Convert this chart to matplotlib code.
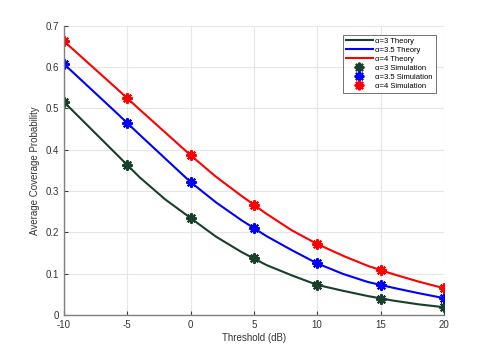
import numpy as np
import matplotlib
matplotlib.use('Agg')
import matplotlib.pyplot as plt

plt.rcParams['font.family'] = ['Liberation Sans', 'DejaVu Sans']
plt.rcParams['axes.unicode_minus'] = False

# threshold grids
th_theory = [-10, -8, -6, -4, -2, 0, 2, 4, 6, 8, 10, 12, 14, 16, 18, 20]
th_sim = [-10, -5, 0, 5, 10, 15, 20]

# theory curves
theory_a3 = [0.516, 0.455, 0.394, 0.333, 0.280, 0.235, 0.190, 0.153, 0.121,
             0.096, 0.073, 0.059, 0.046, 0.035, 0.026, 0.019]
theory_a35 = [0.608, 0.551, 0.494, 0.436, 0.379, 0.322, 0.273, 0.230, 0.191,
              0.157, 0.125, 0.100, 0.080, 0.066, 0.053, 0.041]
theory_a4 = [0.663, 0.608, 0.553, 0.497, 0.442, 0.387, 0.335, 0.289, 0.245,
             0.205, 0.172, 0.144, 0.119, 0.099, 0.081, 0.065]

# simulation points
sim_a3 = [0.516, 0.363, 0.235, 0.137, 0.073, 0.040, 0.019]
sim_a35 = [0.608, 0.465, 0.322, 0.210, 0.125, 0.073, 0.041]
sim_a4 = [0.663, 0.525, 0.387, 0.266, 0.172, 0.109, 0.065]

dark = '#173f2a'
star = (8, 2, 0)

fig = plt.figure(figsize=(4.91, 3.54), dpi=100)
ax = fig.add_axes([0.130, 0.110, 0.774, 0.817])

ax.plot(th_theory, theory_a3, color=dark, lw=1.5, label='α=3 Theory')
ax.plot(th_theory, theory_a35, color='b', lw=1.5, label='α=3.5 Theory')
ax.plot(th_theory, theory_a4, color='r', lw=1.5, label='α=4 Theory')
ax.plot(th_sim, sim_a3, ls='none', marker=star, ms=7.5, mew=1.5, color=dark,
        label='α=3 Simulation')
ax.plot(th_sim, sim_a35, ls='none', marker=star, ms=7.5, mew=1.5, color='b',
        label='α=3.5 Simulation')
ax.plot(th_sim, sim_a4, ls='none', marker=star, ms=7.5, mew=1.5, color='r',
        label='α=4 Simulation')

ax.set_xlim(-10, 20)
ax.set_ylim(0, 0.7)
ax.set_xticks([-10, -5, 0, 5, 10, 15, 20])
ax.set_yticks(np.arange(0, 0.71, 0.1))
ax.set_yticklabels(['0', '0.1', '0.2', '0.3', '0.4', '0.5', '0.6', '0.7'])
ax.grid(True, color='#e6e6e6', lw=0.8)
ax.set_axisbelow(True)
for s in ['top', 'right']:
    ax.spines[s].set_visible(False)
for s in ['left', 'bottom']:
    ax.spines[s].set_color('#808080')
    ax.spines[s].set_linewidth(1.0)
ax.tick_params(direction='in', length=3, width=0.8, color='#404040',
               labelsize=7, labelcolor='#333333')
ax.set_xlabel('Threshold (dB)', fontsize=7, color='#333333', labelpad=2)
ax.set_ylabel('Average Coverage Probability', fontsize=7, color='#333333', labelpad=4)

leg = ax.legend(loc='upper right', bbox_to_anchor=(0.978, 0.97), fontsize=5.5,
                frameon=True, fancybox=False, edgecolor='#333333',
                handlelength=3.5, handletextpad=0.3, borderpad=0.4,
                labelspacing=0.22, borderaxespad=0)
leg.get_frame().set_linewidth(0.6)
for h in leg.legend_handles[3:]:
    h.set_markersize(7)

fig.savefig('out.png', dpi=100)
